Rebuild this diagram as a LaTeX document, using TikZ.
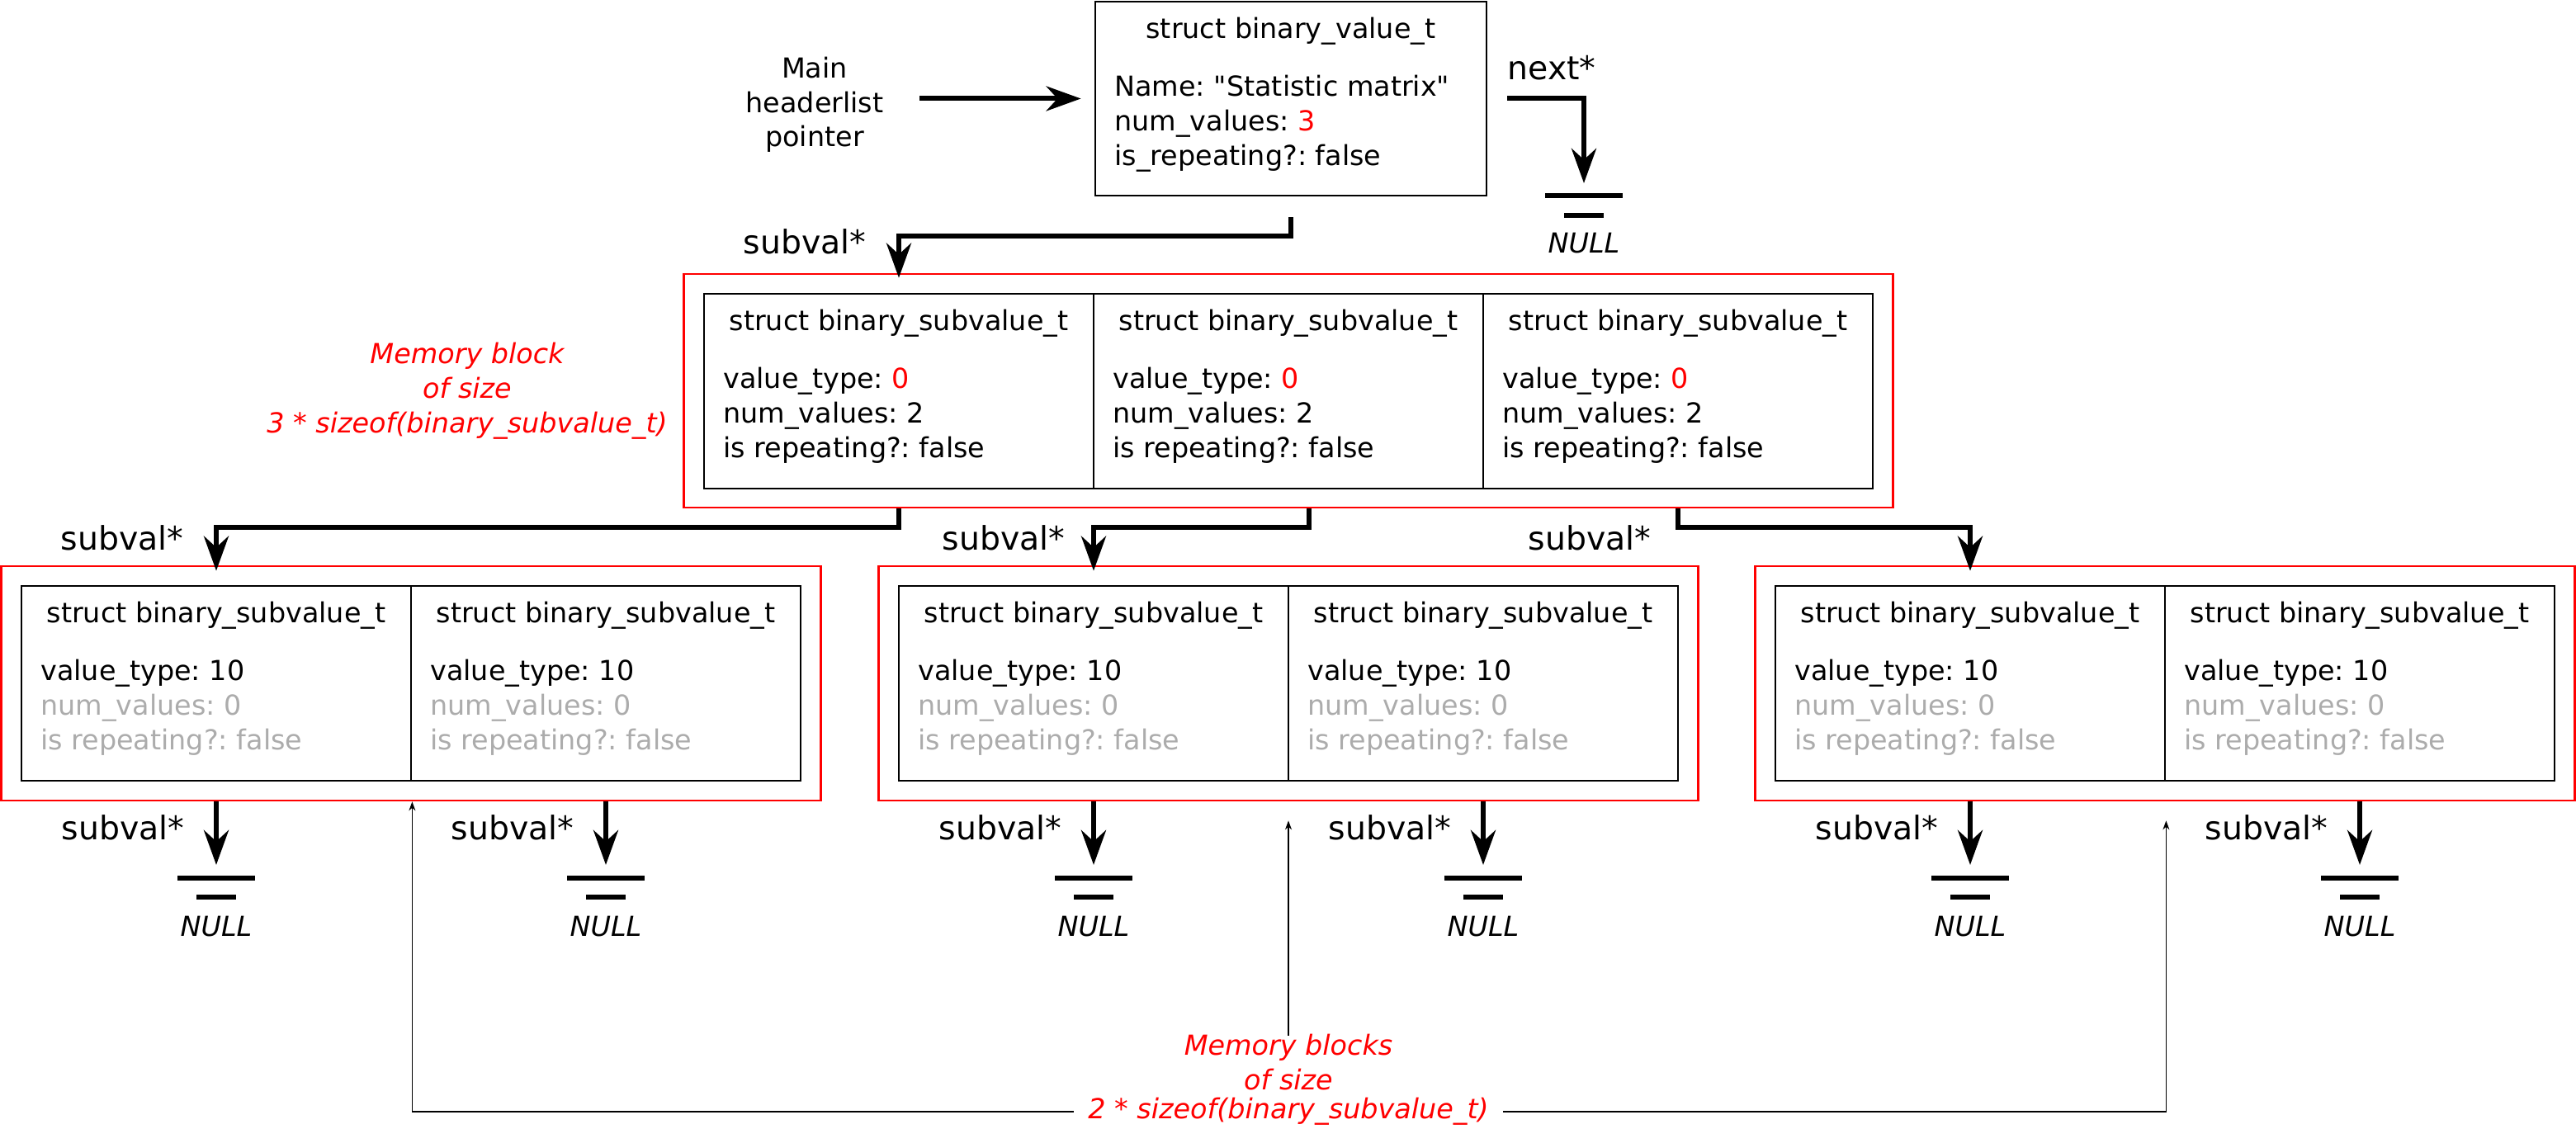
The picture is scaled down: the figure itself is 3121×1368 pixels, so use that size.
\documentclass[tikz,border=0pt]{standalone}
\usepackage{fontspec}
\setmainfont{DejaVu Sans}[Ligatures=TeXOff, ItalicFont={DejaVu Sans Oblique}]
\usepackage{tikz}
\usetikzlibrary{arrows.meta}
\usepackage{xcolor}
\definecolor{faded}{RGB}{172,172,172}
\frenchspacing

\begin{document}
\begin{tikzpicture}[x=.01cm, y=-.01cm,
    cellbox/.style={draw, line width=.025cm, minimum width=4.72cm, minimum height=2.36cm, inner sep=0pt},
    redblock/.style={draw=red, line width=.025cm, minimum width=9.92cm, minimum height=2.84cm, inner sep=0pt},
    celltitle/.style={font=\fontsize{9.5}{11.95}\selectfont},
    cellfields/.style={anchor=north west, align=left, inner sep=0pt, font=\fontsize{9.5}{11.95}\selectfont, execute at begin node=\strut},
    ptrlabel/.style={font=\fontsize{11.2}{13.5}\selectfont},
    ptr/.style={-{Stealth[length=.42cm, width=.3cm]}, line width=.06cm},
    groundbar/.style={line width=.06cm},
    nullname/.style={font=\fontsize{9.5}{11.95}\selectfont\itshape},
    sizenote/.style={text=red, align=center, font=\fontsize{9.5}{11.95}\selectfont\itshape},
    sizeline/.style={-{Stealth[length=.11cm, width=.08cm]}, line width=.015cm}]
    \useasboundingbox (0,0) rectangle (3121,1368);
    % top value
    \node[align=center, inner sep=0pt, font=\fontsize{9.5}{11.75}\selectfont] (main) at (987,127) {Main\\headerlist\\pointer};
    \node[cellbox, minimum width=4.74cm, minimum height=2.35cm] (val) at (1564,119.5) {};
    \node[celltitle] (valname) at ([yshift=-.37cm]val.north) {struct binary\_value\_t};
    \node[cellfields] (valfields) at ([shift={(.24cm,-.896cm)}]val.north west) {Name: "Statistic matrix"\\num\_values: \textcolor{red}{3}\\is\_repeating?: false};
    \coordinate (nul0) at (1919,237);
    \node[ptrlabel] (nextlbl) at (1880,82) {next*};
    \node[ptrlabel] (sublbl) at (975,293) {subval*};
    % block of 3 subvalues
    \node[redblock, minimum width=14.64cm, minimum height=2.83cm] (blkA) at (1561,473.5) {};
    \node[sizenote] (blkAsize) at (566,474) {Memory block\\of size\\3 * sizeof(binary\_subvalue\_t)};
    \node[cellbox] (sv1) at (1089,474) {};
    \node[celltitle] (sv1name) at ([yshift=-.37cm]sv1.north) {struct binary\_subvalue\_t};
    \node[cellfields] (sv1fields) at ([shift={(.24cm,-.896cm)}]sv1.north west) {value\_type: \textcolor{red}{0}\\num\_values: 2\\is repeating?: false};
    \node[cellbox] (sv2) at (1561,474) {};
    \node[celltitle] (sv2name) at ([yshift=-.37cm]sv2.north) {struct binary\_subvalue\_t};
    \node[cellfields] (sv2fields) at ([shift={(.24cm,-.896cm)}]sv2.north west) {value\_type: \textcolor{red}{0}\\num\_values: 2\\is repeating?: false};
    \node[cellbox] (sv3) at (2033,474) {};
    \node[celltitle] (sv3name) at ([yshift=-.37cm]sv3.north) {struct binary\_subvalue\_t};
    \node[cellfields] (sv3fields) at ([shift={(.24cm,-.896cm)}]sv3.north west) {value\_type: \textcolor{red}{0}\\num\_values: 2\\is repeating?: false};
    \node[ptrlabel] (sv1lbl) at (148,652) {subval*};
    \node[ptrlabel] (sv2lbl) at (1216,652) {subval*};
    \node[ptrlabel] (sv3lbl) at (1926,652) {subval*};
    % blocks of 2 subvalues
    \node[redblock] (blk1) at (498,828) {};
    \node[redblock] (blk2) at (1561,828) {};
    \node[redblock] (blk3) at (2623,828) {};
    \node[cellbox] (sub1a) at (262,828) {};
    \node[celltitle] (sub1aname) at ([yshift=-.37cm]sub1a.north) {struct binary\_subvalue\_t};
    \node[cellfields] (sub1afields) at ([shift={(.24cm,-.896cm)}]sub1a.north west) {value\_type: 10\\\textcolor{faded}{num\_values: 0}\\\textcolor{faded}{is repeating?: false}};
    \node[cellbox] (sub1b) at (734,828) {};
    \node[celltitle] (sub1bname) at ([yshift=-.37cm]sub1b.north) {struct binary\_subvalue\_t};
    \node[cellfields] (sub1bfields) at ([shift={(.24cm,-.896cm)}]sub1b.north west) {value\_type: 10\\\textcolor{faded}{num\_values: 0}\\\textcolor{faded}{is repeating?: false}};
    \node[cellbox] (sub2a) at (1325,828) {};
    \node[celltitle] (sub2aname) at ([yshift=-.37cm]sub2a.north) {struct binary\_subvalue\_t};
    \node[cellfields] (sub2afields) at ([shift={(.24cm,-.896cm)}]sub2a.north west) {value\_type: 10\\\textcolor{faded}{num\_values: 0}\\\textcolor{faded}{is repeating?: false}};
    \node[cellbox] (sub2b) at (1797,828) {};
    \node[celltitle] (sub2bname) at ([yshift=-.37cm]sub2b.north) {struct binary\_subvalue\_t};
    \node[cellfields] (sub2bfields) at ([shift={(.24cm,-.896cm)}]sub2b.north west) {value\_type: 10\\\textcolor{faded}{num\_values: 0}\\\textcolor{faded}{is repeating?: false}};
    \node[cellbox] (sub3a) at (2387,828) {};
    \node[celltitle] (sub3aname) at ([yshift=-.37cm]sub3a.north) {struct binary\_subvalue\_t};
    \node[cellfields] (sub3afields) at ([shift={(.24cm,-.896cm)}]sub3a.north west) {value\_type: 10\\\textcolor{faded}{num\_values: 0}\\\textcolor{faded}{is repeating?: false}};
    \node[cellbox] (sub3b) at (2859,828) {};
    \node[celltitle] (sub3bname) at ([yshift=-.37cm]sub3b.north) {struct binary\_subvalue\_t};
    \node[cellfields] (sub3bfields) at ([shift={(.24cm,-.896cm)}]sub3b.north west) {value\_type: 10\\\textcolor{faded}{num\_values: 0}\\\textcolor{faded}{is repeating?: false}};
    \node[ptrlabel] (sub1albl) at (149,1003) {subval*};
    \node[ptrlabel] (sub1blbl) at (621,1003) {subval*};
    \node[ptrlabel] (sub2albl) at (1212,1003) {subval*};
    \node[ptrlabel] (sub2blbl) at (1684,1003) {subval*};
    \node[ptrlabel] (sub3albl) at (2274,1003) {subval*};
    \node[ptrlabel] (sub3blbl) at (2746,1003) {subval*};
    \coordinate (nul1a) at (262,1064);
    \coordinate (nul1b) at (734,1064);
    \coordinate (nul2a) at (1325,1064);
    \coordinate (nul2b) at (1797,1064);
    \coordinate (nul3a) at (2387,1064);
    \coordinate (nul3b) at (2859,1064);
    % NULL ends
    \draw[groundbar] (nul0) +(-47,0) -- +(47,0) +(-24,24) -- +(24,24) +(0,58) node[nullname] (null0) {NULL};
    \draw[groundbar] (nul1a) +(-47,0) -- +(47,0) +(-24,23) -- +(24,23) +(0,59) node[nullname] (null1a) {NULL};
    \draw[groundbar] (nul1b) +(-47,0) -- +(47,0) +(-24,23) -- +(24,23) +(0,59) node[nullname] (null1b) {NULL};
    \draw[groundbar] (nul2a) +(-47,0) -- +(47,0) +(-24,23) -- +(24,23) +(0,59) node[nullname] (null2a) {NULL};
    \draw[groundbar] (nul2b) +(-47,0) -- +(47,0) +(-24,23) -- +(24,23) +(0,59) node[nullname] (null2b) {NULL};
    \draw[groundbar] (nul3a) +(-47,0) -- +(47,0) +(-24,23) -- +(24,23) +(0,59) node[nullname] (null3a) {NULL};
    \draw[groundbar] (nul3b) +(-47,0) -- +(47,0) +(-24,23) -- +(24,23) +(0,59) node[nullname] (null3b) {NULL};
    % pointers
    \draw[ptr, shorten <=.43cm, shorten >=.16cm] (main.east |- val.west) -- (val.west);
    \draw[ptr, shorten <=.24cm, shorten >=.15cm] (val.east) -| (nul0);
    \draw[ptr, shorten <=.25cm, shorten >=-.06cm] (val.south) -- ++(0,48) -| (blkA.north -| sv1.north);
    \draw[ptr, shorten >=-.07cm] (blkA.south -| sv1.south) -- ++(0,23) -| (blk1.north -| sub1a.north);
    \draw[ptr, shorten >=-.07cm] ([xshift=.25cm]blkA.south -| sv2.south) -- ++(0,23) -| (blk2.north -| sub2a.north);
    \draw[ptr, shorten >=-.07cm] (blkA.south -| sv3.south) -- ++(0,23) -| (blk3.north -| sub3a.north);
    \draw[ptr, shorten >=.16cm] (blk1.south -| sub1a.south) -- (nul1a);
    \draw[ptr, shorten >=.16cm] (blk1.south -| sub1b.south) -- (nul1b);
    \draw[ptr, shorten >=.16cm] (blk2.south -| sub2a.south) -- (nul2a);
    \draw[ptr, shorten >=.16cm] (blk2.south -| sub2b.south) -- (nul2b);
    \draw[ptr, shorten >=.16cm] (blk3.south -| sub3a.south) -- (nul3a);
    \draw[ptr, shorten >=.16cm] (blk3.south -| sub3b.south) -- (nul3b);
    % memory block sizes
    \node[sizenote] (blocks) at (1561,1287) {Memory blocks\\of size};
    \node[sizenote, inner xsep=.17cm] (blocksize) at (1561,1347) {2 * sizeof(binary\_subvalue\_t)};
    \draw[sizeline] (blocksize.west) -| (blk1.south -| sub1a.east);
    \draw[sizeline, shorten <=-.14cm, shorten >=.23cm] (blocks.north) -- (blk2.south -| blocks.north);
    \draw[sizeline, shorten >=.23cm] (blocksize.east) -| (blk3.south -| sub3a.east);
\end{tikzpicture}
\end{document}
